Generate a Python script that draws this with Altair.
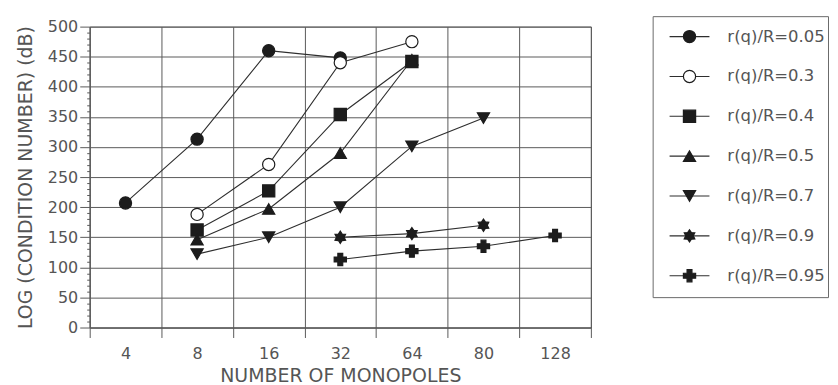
import math
import altair as alt
import pandas as pd

# ---- data ----
categories = ["4", "8", "16", "32", "64", "80", "128"]
series_names = ["r(q)/R=0.05", "r(q)/R=0.3", "r(q)/R=0.4", "r(q)/R=0.5",
                "r(q)/R=0.7", "r(q)/R=0.9", "r(q)/R=0.95"]
v_005 = [207, 313, 460, 448, None, None, None]
v_03 = [None, 188, 271, 440, 475, None, None]
v_04 = [None, 162, 227, 354, 442, None, None]
v_05 = [None, 146, 197, 290, 445, None, None]
v_07 = [None, 122, 150, 200, 301, 348, None]
v_09 = [None, None, None, 150, 156, 170, None]
v_095 = [None, None, None, 113, 127, 135, 153]
all_values = [v_005, v_03, v_04, v_05, v_07, v_09, v_095]

rows = []
for name, vals in zip(series_names, all_values):
    for i, (cat, v) in enumerate(zip(categories, vals)):
        if v is not None:
            rows.append({"series": name, "n": cat, "idx": i, "v": v})
df = pd.DataFrame(rows)

# ---- styling ----
INK = "#1c1c1c"
LINE = "#2e2e2e"
GRID = "#5a5a5a"
TXT = "#555555"
FONT = "DejaVu Sans"

star_pts = []
for k in range(12):
    r = 1.0 if k % 2 == 0 else 0.62
    a = k * math.pi / 6 - math.pi / 2
    star_pts.append(f"{r*math.cos(a):.3f},{r*math.sin(a):.3f}")
star_path = "M" + " L".join(star_pts) + " Z"

shape_range = ["circle", "circle", "square", "triangle-up", "triangle-down", star_path, "cross"]
fill_range = [INK, "white", INK, INK, INK, INK, INK]
size_range = [150, 150, 125, 125, 125, 115, 135]

shape_enc = alt.Shape("series:N", scale=alt.Scale(domain=series_names, range=shape_range), legend=None)
fill_enc = alt.Fill("series:N", scale=alt.Scale(domain=series_names, range=fill_range), legend=None)
size_enc = alt.Size("series:N", scale=alt.Scale(domain=series_names, range=size_range), legend=None)

x_enc = alt.X(
    "n:N", sort=categories,
    scale=alt.Scale(domain=categories, paddingInner=0, paddingOuter=0),
    axis=alt.Axis(title="NUMBER OF MONOPOLES", labelAngle=0, tickBand="extent",
                  grid=True, gridColor=GRID, gridWidth=1, domainColor=GRID,
                  tickColor=GRID, tickSize=10, labelPadding=8,
                  labelFont=FONT, labelFontSize=16, labelColor=TXT,
                  titleFont=FONT, titleFontSize=19, titleFontWeight="normal",
                  titleColor=TXT, titlePadding=5),
)
y_enc = alt.Y(
    "v:Q",
    scale=alt.Scale(domain=[0, 500], nice=False, zero=True),
    axis=alt.Axis(title="LOG (CONDITION NUMBER) (dB)", values=list(range(0, 501, 10)),
                  labelExpr="datum.value % 50 == 0 ? datum.label : ''",
                  tickSize={"condition": {"test": "datum.value % 50 == 0", "value": 10}, "value": 3},
                  gridOpacity={"condition": {"test": "datum.value % 50 == 0", "value": 1}, "value": 0},
                  grid=True, gridColor=GRID, gridWidth=1, domainColor=GRID,
                  tickColor=GRID, labelPadding=2,
                  labelFont=FONT, labelFontSize=16, labelColor=TXT,
                  titleFont=FONT, titleFontSize=19, titleFontWeight="normal",
                  titleColor=TXT, titlePadding=12),
)

base = alt.Chart(df).encode(x=x_enc, y=y_enc)
lines = base.mark_line(color=LINE, strokeWidth=1.1).encode(detail="series:N", order="idx:Q")
points = base.mark_point(stroke=INK, strokeWidth=1.2, opacity=1, fillOpacity=1).encode(
    shape=shape_enc, fill=fill_enc, size=size_enc)
main = alt.layer(lines, points).properties(width=503, height=302)

# ---- legend panel (boxed key to the right) ----
leg_df = pd.DataFrame({"series": series_names})
ly = alt.Y("series:N", sort=series_names,
           scale=alt.Scale(domain=series_names, paddingInner=0, paddingOuter=0, range=[-10, 270]),
           axis=None)
leg_base = alt.Chart(leg_df).encode(y=ly)
leg_box = alt.Chart(pd.DataFrame({"box": [1]})).mark_rect(
    fill="white", stroke="#6a6a6a", strokeWidth=1).encode(
    x=alt.value(0.5), x2=alt.value(176.5), y=alt.value(-10), y2=alt.value(272))
leg_rule = leg_base.mark_rule(color=LINE, strokeWidth=1.1).encode(x=alt.value(17), x2=alt.value(57))
leg_pts = leg_base.mark_point(stroke=INK, strokeWidth=1.2, opacity=1, fillOpacity=1).encode(
    x=alt.value(37), shape=shape_enc, fill=fill_enc, size=size_enc)
leg_txt = leg_base.mark_text(align="left", baseline="middle", font=FONT, fontSize=16.5,
                             color=TXT).encode(x=alt.value(75), text="series:N")
legend = alt.layer(leg_box, leg_rule, leg_pts, leg_txt).properties(
    width=177, height=282, view=alt.ViewBackground(stroke="transparent"))

chart = alt.hconcat(main, legend, spacing=60).properties(
    padding={"left": 7, "top": 7, "right": 0, "bottom": 0},
    background="white",
).configure_view(stroke="#666666", strokeWidth=1)

chart.save("out.html", embed_options={"renderer": "svg", "actions": False})
